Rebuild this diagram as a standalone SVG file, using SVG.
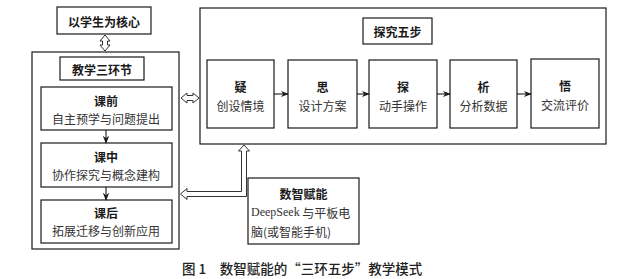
<svg xmlns="http://www.w3.org/2000/svg" width="630" height="279" viewBox="0 0 630 279">
<style>
.box{fill:#fff;stroke:#1a1a1a;stroke-width:1.2}
.t{font-family:"Noto Sans CJK SC",sans-serif;font-size:12px;fill:#1a1a1a;text-anchor:middle;dominant-baseline:central}
.b{font-weight:bold}
.s{fill:#333}
.ha{fill:#fff;stroke:#333;stroke-width:1}
.ln{stroke:#1a1a1a;stroke-width:1.1;fill:none}
</style>
<defs>
<marker id="ar" viewBox="0 0 10 10" refX="9" refY="5" markerWidth="8" markerHeight="8" orient="auto" markerUnits="userSpaceOnUse">
<path d="M0,1 L10,5 L0,9 L3,5 Z" fill="#1a1a1a"/>
</marker>
</defs>
<rect width="630" height="279" fill="#fff"/>

<g id="core">
<rect class="box" x="57" y="7" width="94" height="27"/>
<text class="t b" x="104" y="21">以学生为核心</text>
</g>

<g id="three">
<rect class="box" x="32" y="52" width="147" height="197"/>
<rect class="box" x="60" y="57" width="84" height="23"/>
<text class="t b" x="102" y="69">教学三环节</text>
</g>
<g id="pre">
<rect class="box" x="41" y="87" width="131" height="43"/>
<text class="t b" x="106" y="100">课前</text>
<text class="t s" x="106" y="118">自主预学与问题提出</text>
</g>
<g id="mid">
<rect class="box" x="41" y="143" width="131" height="44"/>
<text class="t b" x="106" y="156">课中</text>
<text class="t s" x="106" y="174">协作探究与概念建构</text>
</g>
<g id="post">
<rect class="box" x="41" y="200" width="131" height="43"/>
<text class="t b" x="106" y="212">课后</text>
<text class="t s" x="106" y="230">拓展迁移与创新应用</text>
</g>

<g id="five">
<rect class="box" x="200" y="8" width="406" height="136"/>
<rect class="box" x="363" y="18" width="69" height="26"/>
<text class="t b" x="397.5" y="31">探究五步</text>
</g>
<g id="s1">
<rect class="box" x="207" y="60" width="67" height="68"/>
<text class="t b" x="240.5" y="86">疑</text>
<text class="t s" x="240.5" y="105">创设情境</text>
</g>
<g id="s2">
<rect class="box" x="288" y="60" width="69" height="68"/>
<text class="t b" x="322.5" y="86">思</text>
<text class="t s" x="322.5" y="105">设计方案</text>
</g>
<g id="s3">
<rect class="box" x="369" y="60" width="68" height="68"/>
<text class="t b" x="403" y="86">探</text>
<text class="t s" x="403" y="105">动手操作</text>
</g>
<g id="s4">
<rect class="box" x="450" y="60" width="67" height="68"/>
<text class="t b" x="483.5" y="86">析</text>
<text class="t s" x="483.5" y="105">分析数据</text>
</g>
<g id="s5">
<rect class="box" x="531" y="59" width="68" height="69"/>
<text class="t b" x="565" y="85">悟</text>
<text class="t s" x="565" y="104">交流评价</text>
</g>

<g id="digital">
<rect class="box" x="248" y="178" width="111" height="66"/>
<text class="t b" x="303.5" y="193">数智赋能</text>
<text class="t s" x="251" y="212" font-size="13" style="text-anchor:start"><tspan font-family="'Liberation Serif',serif">DeepSeek</tspan> 与平板电</text>
<text class="t s" x="251" y="231" font-size="13" style="text-anchor:start">脑(或智能手机)</text>
</g>

<g id="connectors">
<line class="ln" x1="106" y1="130" x2="106" y2="143" marker-end="url(#ar)"/>
<line class="ln" x1="106" y1="187" x2="106" y2="200" marker-end="url(#ar)"/>
<line class="ln" x1="274" y1="94" x2="288" y2="94" marker-end="url(#ar)"/>
<line class="ln" x1="357" y1="94" x2="369" y2="94" marker-end="url(#ar)"/>
<line class="ln" x1="437" y1="94" x2="450" y2="94" marker-end="url(#ar)"/>
<line class="ln" x1="517" y1="94" x2="531" y2="94" marker-end="url(#ar)"/>
<polygon class="ha" points="105,35 110,41 107.5,41 107.5,45 110,45 105,51 100,45 102.5,45 102.5,41 100,41"/>
<polygon class="ha" points="181,98 187,93 187,95.5 193,95.5 193,93 199,98 193,103 193,100.5 187,100.5 187,103"/>
<polygon class="ha" points="244,145 249.5,151 246.5,151 246.5,196.5 187,196.5 187,199.5 180.5,194 187,188.5 187,191.5 241.5,191.5 241.5,151 238.5,151"/>
</g>

<text x="182" y="268" font-family="'Noto Sans CJK SC',sans-serif" font-size="13.5" font-weight="500" fill="#222" dominant-baseline="central">图 1　数智赋能的“三环五步”教学模式</text>
</svg>
